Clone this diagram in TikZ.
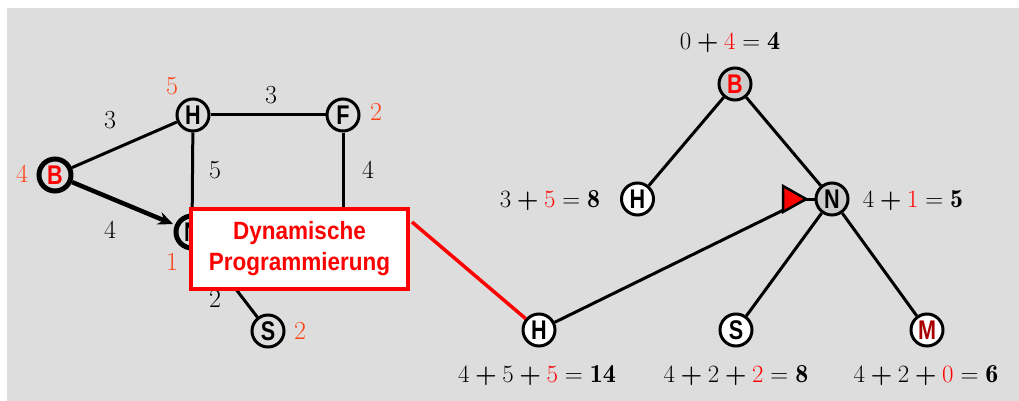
\documentclass[tikz,border=0pt]{standalone}
\usepackage{fontspec}
\usetikzlibrary{arrows.meta,calc}
\newfontfamily\nodefont[FakeStretch=0.8]{Liberation Sans}
\newfontfamily\boxfont[FakeStretch=0.9]{Liberation Sans}
\definecolor{bggrey}{RGB}{221,221,221}
\definecolor{nodegrey}{RGB}{204,204,204}
\definecolor{hred}{RGB}{255,66,20}
\definecolor{darkred}{RGB}{168,0,0}
\newcommand\plusop{\mathbin{\mbox{\boldmath$+$}}}
\tikzset{
  gnode/.style={circle, draw, line width=3pt, minimum size=32pt, inner sep=0pt,
    fill=bggrey, font=\nodefont\bfseries\fontsize{27}{27}\selectfont},
  tnode/.style={gnode, fill=white},
  tgrey/.style={gnode, fill=nodegrey},
  num/.style={inner sep=0pt, font=\fontsize{26}{30}\selectfont},
  heur/.style={num, text=hred},
  expr/.style={inner sep=0pt, anchor=base, font=\fontsize{26}{30}\selectfont},
  edge/.style={line width=3pt},
}
\begin{document}
\begin{tikzpicture}[x=1pt,y=-1pt]
\useasboundingbox (0,0) rectangle (1019,401);
\fill[bggrey] (7,8) rectangle (1019,401);

% ---------- left graph ----------
\node[gnode, line width=5pt, text=red] (B) at (55,175) {B};
\node[gnode] (H) at (193,115) {H};
\node[gnode] (F) at (343,115) {F};
\node[gnode, line width=5pt] (N) at (192,232) {N};
\node[gnode] (S) at (268,331) {S};
\coordinate (Fd) at (343,240);

\draw[edge] (B) -- (H);
\draw[edge] (H) -- (F);
\draw[edge] (H) -- (N);
\draw[edge] (F) -- (Fd);
\draw[edge] (N) -- (S);
\draw[line width=4.5pt, -{Stealth[length=15pt,width=13pt,inset=5pt]}, shorten >=2pt] (B) -- (N);

\node[num] (l1) at (110,120) {3};
\node[num] (l2) at (271,95) {3};
\node[num] (l3) at (215,170) {5};
\node[num] (l4) at (368,170) {4};
\node[num] (l5) at (110,230) {4};
\node[num] (l6) at (215,299) {2};

\node[heur] (h1) at (172,86) {5};
\node[heur] (h2) at (376,112) {2};
\node[heur] (h3) at (22,174) {4};
\node[heur] (h4) at (172,262) {1};
\node[heur] (h5) at (300,331) {2};

% ---------- tree ----------
\node[tgrey, text=red] (TB) at (735,84) {B};
\node[tnode] (TH) at (637.5,199) {H};
\node[tgrey] (TN) at (832,199) {N};
\node[tnode] (TH2) at (539,330) {H};
\node[tnode] (TS) at (736,330) {S};
\node[tnode, text=darkred] (TM) at (927,330) {M};
\coordinate (tip) at (806,199);

\draw[edge] (TB) -- (TH);
\draw[edge] (TB) -- (TN);
\draw[edge] (TN) -- (TS);
\draw[edge] (TN) -- (TM);
\draw[edge] (TH2) -- (tip);
\draw[edge] (tip) -- (TN);
\draw[line width=2.5pt, fill=red, line join=miter] (783,186) -- (tip) -- (783,212) -- cycle;

\node[expr] (e1) at (730,50) {$0\plusop\textcolor{red}{4}=\mathbf{4}$};
\node[expr] (e2) at (550,207) {$3\plusop\textcolor{red}{5}=\mathbf{8}$};
\node[expr] (e3) at (913,207) {$4\plusop\textcolor{red}{1}=\mathbf{5}$};
\node[expr] (e4) at (537,382) {$4\plusop5\plusop\textcolor{red}{5}=\mathbf{14}$};
\node[expr] (e5) at (736,382) {$4\plusop2\plusop\textcolor{red}{2}=\mathbf{8}$};
\node[expr] (e6) at (926,382) {$4\plusop2\plusop\textcolor{red}{0}=\mathbf{6}$};

% ---------- box ----------
\node[draw=red, line width=4pt, fill=white, minimum width=217pt, minimum height=80pt,
  align=center, text=red, inner sep=0pt,
  font=\boxfont\bfseries\fontsize{25}{31}\selectfont] (box) at (299.5,249)
  {Dynamische\\Programmierung};
\draw[red, line width=3.5pt] ($(box.north east)+(2,15)$) -- (TH2);
\end{tikzpicture}
\end{document}
